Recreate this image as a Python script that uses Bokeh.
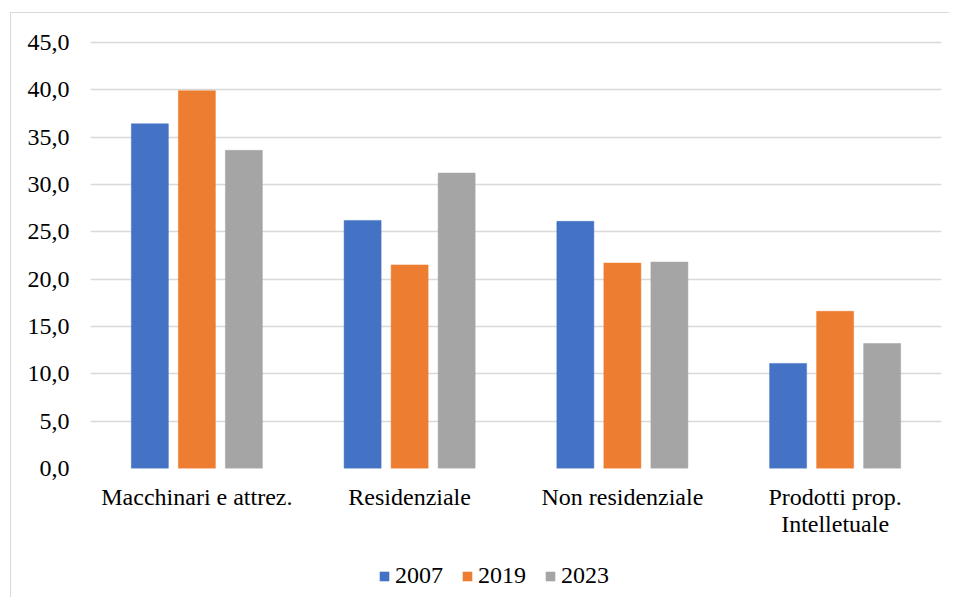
from bokeh.plotting import figure
from bokeh.layouts import column
from bokeh.models import (ColumnDataSource, FactorRange, Range1d, Legend, LegendItem,
                          FixedTicker, CustomJSTickFormatter)
from bokeh.transform import dodge
from bokeh.embed import file_html
from bokeh.resources import INLINE

categories = ["Macchinari e attrez.", "Residenziale", "Non residenziale", "Prodotti prop.\nIntelletuale"]
years = ["2007", "2019", "2023"]
v2007 = [36.4, 26.2, 26.1, 11.1]
v2019 = [39.9, 21.5, 21.7, 16.6]
v2023 = [33.6, 31.2, 21.8, 13.2]
y_ticks = [0, 5, 10, 15, 20, 25, 30, 35, 40, 45]
colors = ["#4472C4", "#ED7D31", "#A5A5A5"]

src = ColumnDataSource(dict(cat=categories, v2007=v2007, v2019=v2019, v2023=v2023))

FONT = "Liberation Serif"
offsets = [-0.221, 0.0, 0.221]
cols = ["v2007", "v2019", "v2023"]

# main chart
p = figure(x_range=FactorRange(*categories, range_padding=0), y_range=Range1d(0, 45.2),
           width=938, height=540, output_backend="svg", toolbar_location=None,
           min_border_left=79, min_border_right=8, min_border_top=27, min_border_bottom=85)
p.outline_line_color = None
p.background_fill_color = "white"
p.border_fill_color = "white"

for col, off, c in zip(cols, offsets, colors):
    p.vbar(x=dodge("cat", off, range=p.x_range), top=col, width=0.174, source=src,
           fill_color=c, line_color=c, line_width=0.5)

p.yaxis.ticker = FixedTicker(ticks=y_ticks)
p.yaxis.formatter = CustomJSTickFormatter(code="return tick.toFixed(1).replace('.', ',');")
for ax in (p.xaxis, p.yaxis):
    ax.axis_line_color = None
    ax.major_tick_line_color = None
    ax.minor_tick_line_color = None
    ax.major_label_text_font = FONT
    ax.major_label_text_font_size = "24px"
    ax.major_label_text_color = "#000000"
p.yaxis.major_label_standoff = 15
p.xaxis.major_label_standoff = 9
p.xaxis.major_label_text_line_height = 1.05
p.xgrid.grid_line_color = None
p.ygrid.grid_line_color = "#d9d9d9"
p.ygrid.grid_line_width = 1.5

# legend strip (its bars are hidden; only the legend shows)
q = figure(x_range=FactorRange(*categories), y_range=Range1d(-1000, -999),
           width=938, height=44, output_backend="svg", toolbar_location=None,
           min_border=0)
q.axis.visible = False
q.grid.visible = False
q.outline_line_color = None
q.background_fill_color = "white"
q.border_fill_color = "white"
rs = []
for col, off, c in zip(cols, offsets, colors):
    r = q.vbar(x=dodge("cat", off, range=q.x_range), top=col, width=0.174, source=src,
               fill_color=c, line_color=None)
    r.visible = False
    rs.append(r)

legend = Legend(items=[LegendItem(label=y, renderers=[r]) for y, r in zip(years, rs)],
                orientation="horizontal", location=(288, 8))
legend.label_text_font = FONT
legend.label_text_font_size = "24px"
legend.label_text_color = "#000000"
legend.glyph_width = 12
legend.glyph_height = 12
legend.spacing = 18
legend.label_standoff = 5
legend.border_line_color = None
legend.background_fill_alpha = 0
legend.inactive_fill_alpha = 0
legend.margin = 0
legend.padding = 0
q.add_layout(legend, "center")

layout = column(p, q, spacing=0, margin=(12, 0, 0, 10),
                styles={"border-top": "1.5px solid #d9d9d9", "border-left": "1.5px solid #d9d9d9",
                        "background-color": "white"})

open("out.html", "w").write(file_html(layout, INLINE))
